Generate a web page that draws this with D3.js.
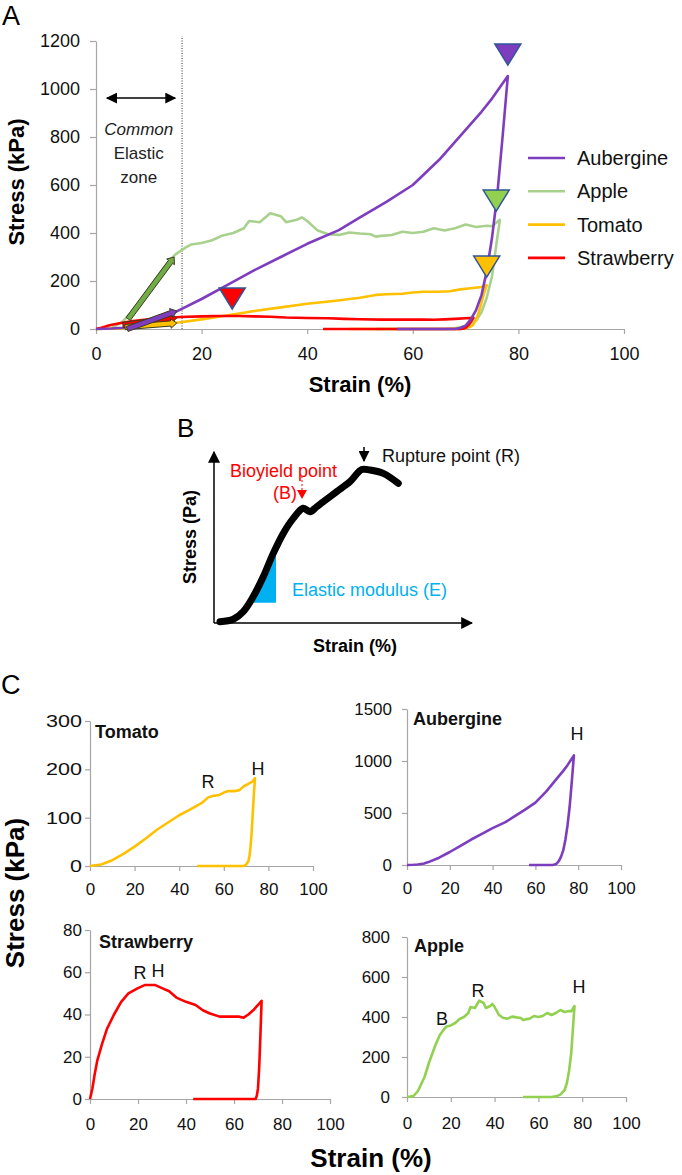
<!DOCTYPE html>
<html><head><meta charset="utf-8">
<script src="https://cdn.jsdelivr.net/npm/d3@7"></script>
<style>body{margin:0;background:#fff}svg{display:block}</style>
</head><body>
<script>
// ---------------- DATA ----------------
// Panel A / C series (strain %, stress kPa): loading then unloading
const aubStrain = [0,3,5,8,10,15,20,25,30,35,40,46,50,55,60,65,70,73,75,78, 77,76,75,74,73,72,71,70,69,68,57];
const aubStress = [0,2,5,15,28,70,125,185,245,300,355,412,465,530,600,705,830,905,960,1054, 800,560,380,240,140,80,40,14,4,0,0];
const appStrain = [0,3,5,8,10,13,15,17,18,20,22,24,26,28,29,31,33,35,36,38,39,40,42,44,46,48,50,52,53,54,56,58,60,62,64,66,68,70,72,74,75,76.5, 76,75.5,75,74,73,72,70,68,66,53];
const appStress = [0,5,30,100,170,260,310,340,352,358,370,390,400,420,450,445,482,470,445,455,465,450,410,395,392,402,398,395,385,388,392,405,400,405,420,410,420,435,425,430,428,455, 380,300,220,130,70,35,12,3,0,0];
const tomStrain = [0,5,10,15,20,25,30,35,40,45,50,53,55,58,60,62,65,67,69,71,73,74, 73.5,73,72.5,72,71.5,71,70,69,48];
const tomStress = [0,3,12,25,40,57,75,90,105,117,130,142,145,147,152,155,155,157,165,170,175,182, 150,110,70,40,20,10,3,0,0];
const strStrain = [0,1,2,3,5,7,10,13,16,20,23,27,30,33,36,40,44,47,50,54,58,62,64,66,68,70,71.5, 71,70.5,70,69.5,69,43];
const strStress = [0,5,12,18,26,33,40,46,50,52.5,54,54,52.5,51,48,46,44.5,42,40.5,39,39,39,38.5,40,42,44.5,46.5, 30,15,5,1.5,0,0];

const legendNames = ["Aubergine","Apple","Tomato","Strawberry"];
const xTicks = [0,20,40,60,80,100];
const yTicksA = [0,200,400,600,800,1000,1200];

// rupture / hardness markers in panel A (strain, stress at top of triangle)
const markStrain = [78, 75.8, 74, 25.8];
const markStress = [1187, 579, 304, 171];
// elastic arrows in panel A: start/end (strain, stress)
const arrowX0 = [6.1, 5.1, 5.5, 5.9];
const arrowY0 = [42, 17, 8, 0];
const arrowX1 = [14.8, 15.3, 15.3, 15.3];
const arrowY1 = [300, 46, 25, 75];
// common elastic zone
const zoneStrain = 16.3;
const zoneArrowX = [2.1, 15];
const zoneArrowY = 962;

// panel B schematic (arbitrary units 0-100)
const bX = [2.4,7.7,11.7,15.7,19.7,23.7,27.7,31.7,35.7,38.4,41.1,43.7,49.1,54.4,59.1,62.4,67.7,73.7];
const bY = [0.8,2.3,7.1,16.5,28.9,43.5,56,65.4,71.7,69.6,72.7,75.8,82.1,88.3,95.9,95.6,93.5,87.3];
const bEX = [15.1, 24.8, 24.8];
const bEY = [12.7, 42.5, 12.7];

// panel C tick values
const yTicksTom = [0,100,200,300];
const yTicksAub = [0,500,1000,1500];
const yTicksStr = [0,20,40,60,80];
const yTicksApp = [0,200,400,600,800];

// ---------------- DRAW ----------------
const W = 682, H = 1175;
const FONT = "'Liberation Sans', Arial, sans-serif";
const AX = "#a6a6a6";
const fmt = d3.format("d");
const svg = d3.select("body").append("svg").attr("width", W).attr("height", H)
  .style("font-family", FONT);
const defs = svg.append("defs");
function marker(id, color, size){
  defs.append("marker").attr("id", id).attr("viewBox","0 0 10 10").attr("refX",9).attr("refY",5)
    .attr("markerWidth",size).attr("markerHeight",size).attr("orient","auto-start-reverse")
    .attr("markerUnits","userSpaceOnUse")
    .append("path").attr("d","M0,0L10,5L0,10z").attr("fill",color);
}
marker("blk", "#000", 11);
marker("blkB", "#000", 12);

const zip = (a,b) => a.map((v,i)=>[v,b[i]]);
function text(g, x, y, s, o={}){
  const t = g.append("text").attr("x",x).attr("y",y).text(s)
    .attr("font-size", o.size||16).attr("fill", o.fill||"#000");
  if (o.anchor) t.attr("text-anchor", o.anchor);
  if (o.weight) t.attr("font-weight", o.weight);
  if (o.style) t.attr("font-style", o.style);
  if (o.rotate) t.attr("transform", `rotate(${o.rotate},${x},${y})`);
  return t;
}
function styleAxis(sel, fs){
  sel.select(".domain").attr("stroke", AX).attr("stroke-width",1.2);
  sel.selectAll(".tick line").attr("stroke", AX).attr("stroke-width",1.2);
  sel.selectAll(".tick text").attr("font-size", fs).attr("fill","#111").attr("font-family", FONT);
}

// ===== Panel A =====
const xA = d3.scaleLinear().domain([0,100]).range([96,624]);
const yA = d3.scaleLinear().domain([0,1200]).range([329,41]);
const gA = svg.append("g");
text(gA, 2, 25, "A", {size:27});
const axA = gA.append("g").attr("transform","translate(0,329)")
  .call(d3.axisBottom(xA).tickValues(xTicks).tickFormat(fmt).tickSize(5).tickPadding(13).tickSizeOuter(0));
styleAxis(axA, 18);
const ayA = gA.append("g").attr("transform","translate(96,0)")
  .call(d3.axisLeft(yA).tickValues(yTicksA).tickFormat(fmt).tickSize(6).tickPadding(10).tickSizeOuter(0));
styleAxis(ayA, 18);
text(gA, 360, 392, "Strain (%)", {size:22, weight:"bold", anchor:"middle"});
text(gA, 24, 182, "Stress (kPa)", {size:22, weight:"bold", anchor:"middle", rotate:-90});

// dotted line
gA.append("line").attr("x1",xA(zoneStrain)).attr("x2",xA(zoneStrain))
  .attr("y1",yA(0)).attr("y2",yA(1220)).attr("stroke","#333").attr("stroke-width",1)
  .attr("stroke-dasharray","1,1.5");
gA.append("line").attr("x1",xA(zoneArrowX[0])).attr("x2",xA(zoneArrowX[1]))
  .attr("y1",yA(zoneArrowY)).attr("y2",yA(zoneArrowY)).attr("stroke","#000").attr("stroke-width",1.5)
  .attr("marker-start","url(#blk)").attr("marker-end","url(#blk)");
text(gA, xA(8.1), 135, "Common", {size:17, style:"italic", anchor:"middle", fill:"#222"});
text(gA, xA(8.1), 159, "Elastic", {size:17, anchor:"middle", fill:"#222"});
text(gA, xA(8.1), 183, "zone", {size:17, anchor:"middle", fill:"#222"});

const colA = {aub:"#7e3dbf", app:"#a9d18e", tom:"#ffc000", str:"#ff0000"};
const lineA = d3.line().x(d=>xA(d[0])).y(d=>yA(d[1]));
const seriesA = [
  [appStrain, appStress, colA.app],
  [tomStrain, tomStress, colA.tom],
  [strStrain, strStress, colA.str],
  [aubStrain, aubStress, colA.aub]
];
seriesA.forEach(([xs,ys,c])=>{
  gA.append("path").attr("d", lineA(zip(xs,ys))).attr("fill","none").attr("stroke",c)
    .attr("stroke-width",2.6).attr("stroke-linejoin","round");
});

// block arrows
const arrowFill = ["#70ad47","#ff0000","#ffc000","#7e3dbf"];
for (let i=0;i<arrowX0.length;i++){
  const x0=xA(arrowX0[i]), y0=yA(arrowY0[i]), x1=xA(arrowX1[i]), y1=yA(arrowY1[i]);
  const L=Math.hypot(x1-x0,y1-y0), ux=(x1-x0)/L, uy=(y1-y0)/L, nx=-uy, ny=ux;
  const hw=2.6, hh=4.8, hl=6;
  const hx=x1-ux*hl, hy=y1-uy*hl;
  const pts=[[x0+nx*hw,y0+ny*hw],[hx+nx*hw,hy+ny*hw],[hx+nx*hh,hy+ny*hh],[x1,y1],
             [hx-nx*hh,hy-ny*hh],[hx-nx*hw,hy-ny*hw],[x0-nx*hw,y0-ny*hw]];
  gA.append("path").attr("d","M"+pts.map(p=>p.join(",")).join("L")+"Z")
    .attr("fill",arrowFill[i]).attr("stroke","#3c3c20").attr("stroke-width",1);
}

// triangles
const markFill = ["#7e3dbf","#92d050","#ffc000","#ff0000"];
markStrain.forEach((s,i)=>{
  const cx=xA(s), ty=yA(markStress[i]);
  gA.append("path").attr("d",`M${cx-13},${ty}L${cx+13},${ty}L${cx},${ty+21}Z`)
    .attr("fill",markFill[i]).attr("stroke","#2f5597").attr("stroke-width",1.5);
});

// legend
const legCol = [colA.aub, colA.app, colA.tom, colA.str];
legendNames.forEach((n,i)=>{
  const y = 158 + i*33.3;
  gA.append("line").attr("x1",528).attr("x2",565).attr("y1",y).attr("y2",y)
    .attr("stroke",legCol[i]).attr("stroke-width",2.6);
  text(gA, 577, y+7, n, {size:20, fill:"#111"});
});

// ===== Panel B =====
const gB = svg.append("g");
const xB = d3.scaleLinear().domain([0,100]).range([214,464]);
const yB = d3.scaleLinear().domain([0,100]).range([623,463]);
text(gB, 177, 437, "B", {size:26});
gB.append("line").attr("x1",xB(0)).attr("y1",yB(0)).attr("x2",xB(0)).attr("y2",yB(106.9))
  .attr("stroke","#000").attr("stroke-width",1.5).attr("marker-end","url(#blkB)");
gB.append("line").attr("x1",xB(0)).attr("y1",yB(0)).attr("x2",xB(103.2)).attr("y2",yB(0))
  .attr("stroke","#000").attr("stroke-width",1.5).attr("marker-end","url(#blkB)");
gB.append("path").attr("d", d3.line().x(d=>xB(d[0])).y(d=>yB(d[1]))(zip(bEX,bEY))+"Z")
  .attr("fill","#00b0f0");
gB.append("path").attr("d", d3.line().curve(d3.curveCatmullRom).x(d=>xB(d[0])).y(d=>yB(d[1]))(zip(bX,bY)))
  .attr("fill","none").attr("stroke","#000").attr("stroke-width",7).attr("stroke-linecap","round")
  .attr("stroke-linejoin","round");
text(gB, 196, 537, "Stress (Pa)", {size:18, weight:"bold", anchor:"middle", rotate:-90});
text(gB, 355, 652, "Strain (%)", {size:18, weight:"bold", anchor:"middle"});
text(gB, 283.5, 477, "Bioyield point", {size:18, anchor:"middle", fill:"#ff0000"});
text(gB, 297, 499, "(B)", {size:18, anchor:"end", fill:"#ff0000"});
gB.append("line").attr("x1",302).attr("x2",302).attr("y1",476).attr("y2",490)
  .attr("stroke","#ff0000").attr("stroke-width",1).attr("stroke-dasharray","2,2");
gB.append("path").attr("d","M297,490L307,490L302,499Z").attr("fill","#ff0000");
text(gB, 382, 462, "Rupture point (R)", {size:18, fill:"#111"});
gB.append("line").attr("x1",364).attr("x2",364).attr("y1",447).attr("y2",461)
  .attr("stroke","#000").attr("stroke-width",1.5).attr("marker-end","url(#blk)");
text(gB, 292, 596, "Elastic modulus (E)", {size:18, fill:"#00b0f0"});

// ===== Panel C =====
const gC = svg.append("g");
text(gC, 1, 694, "C", {size:27});
text(gC, 24, 893, "Stress (kPa)", {size:26, weight:"bold", anchor:"middle", rotate:-90});
text(gC, 371, 1167, "Strain (%)", {size:26, weight:"bold", anchor:"middle"});

function subPanel(o){
  const x = d3.scaleLinear().domain([0,100]).range(o.xr);
  const y = d3.scaleLinear().domain([0,o.ymax]).range(o.yr);
  const g = gC.append("g");
  const ax = g.append("g").attr("transform",`translate(0,${o.yr[0]})`)
    .call(d3.axisBottom(x).tickValues(xTicks).tickFormat(fmt).tickSize(5).tickPadding(o.xpad).tickSizeOuter(0));
  styleAxis(ax, 17);
  const ay = g.append("g").attr("transform",`translate(${o.xr[0]},0)`)
    .call(d3.axisLeft(y).tickValues(o.yticks).tickFormat(fmt).tickSize(5).tickPadding(o.ypad).tickSizeOuter(0));
  styleAxis(ay, 17);
  if (o.stretch) ay.selectAll(".tick text").attr("textLength", d=>String(d).length*o.stretch)
    .attr("lengthAdjust","spacingAndGlyphs");
  g.append("path").attr("d", d3.line().x(d=>x(d[0])).y(d=>y(d[1]))(zip(o.xs,o.ys)))
    .attr("fill","none").attr("stroke",o.color).attr("stroke-width",2.6).attr("stroke-linejoin","round");
  text(g, o.title[0], o.title[1], o.name, {size:18, weight:"bold", fill:"#111"});
  o.labels.forEach(l=>text(g, x(l[1]), y(l[2]), l[0], {size:18, anchor:"middle", fill:"#111"}));
}
subPanel({xr:[90,313], yr:[866,721], ymax:300, yticks:yTicksTom, xpad:12, ypad:3, stretch:12,
  xs:tomStrain, ys:tomStress, color:"#ffc000", name:"Tomato", title:[95,738],
  labels:[["R",52.9,161],["H",75.3,188]]});
subPanel({xr:[407,621], yr:[865,709], ymax:1500, yticks:yTicksAub, xpad:12, ypad:10,
  xs:aubStrain, ys:aubStress, color:"#7e3dbf", name:"Aubergine", title:[413,725],
  labels:[["H",79.4,1202]]});
subPanel({xr:[90,330], yr:[1099,930], ymax:80, yticks:yTicksStr, xpad:14, ypad:3,
  xs:strStrain, ys:strStress, color:"#ff0000", name:"Strawberry", title:[99,948],
  labels:[["R",20.8,56.7],["H",28.3,57.6]]});
subPanel({xr:[407,626], yr:[1097,937], ymax:800, yticks:yTicksApp, xpad:15, ypad:12,
  xs:appStrain, ys:appStress, color:"#92d050", name:"Apple", title:[414,952],
  labels:[["B",16,360],["R",32.4,500],["H",78.5,520]]});
</script>
</body></html>
